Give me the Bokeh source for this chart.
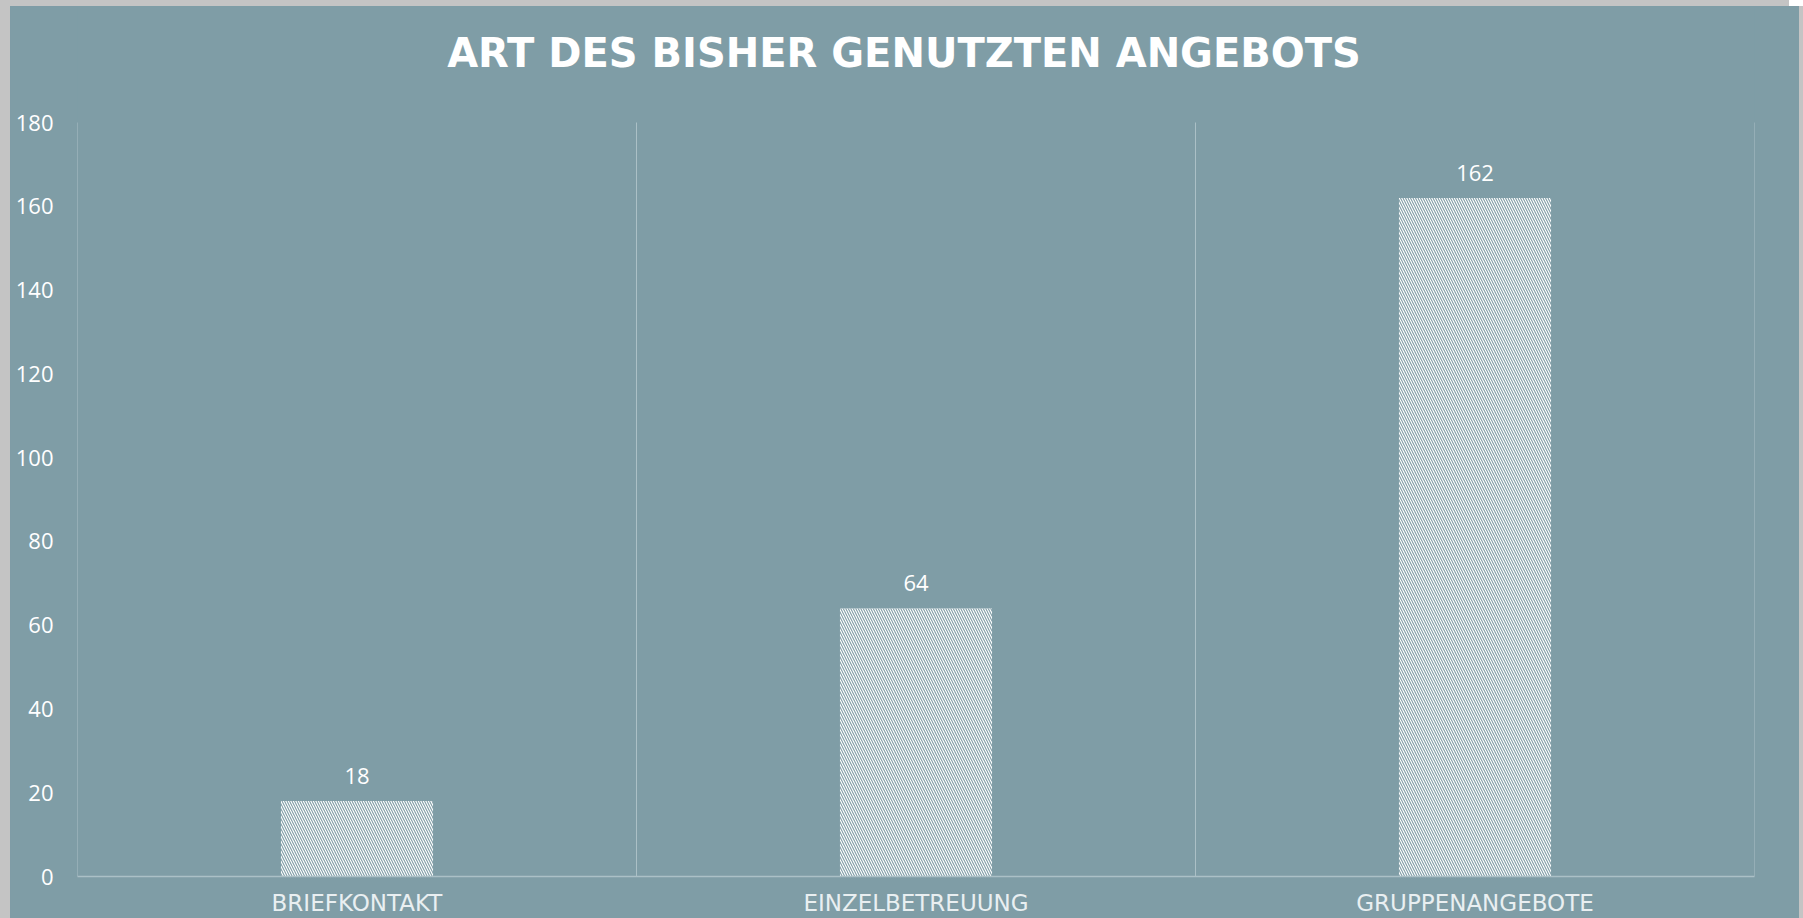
from bokeh.plotting import figure
from bokeh.models import ColumnDataSource, Range1d, FixedTicker, Label
from bokeh.embed import file_html
from bokeh.resources import INLINE

categories = ["BRIEFKONTAKT", "EINZELBETREUUNG", "GRUPPENANGEBOTE"]
values = [18, 64, 162]
y_ticks = [0, 20, 40, 60, 80, 100, 120, 140, 160, 180]
title_text = "ART DES BISHER GENUTZTEN ANGEBOTS"

BG = "#7f9da6"
GRID = "#abc0c6"

# layout (pixels): the frame reaches up to the top so the title can live inside it
FRAME_H = 870          # frame height in px
PLOT_H = 754           # px occupied by the 0..180 value span
y_top = y_ticks[-1] * FRAME_H / PLOT_H

centers = [i + 0.5 for i in range(len(categories))]
bounds = list(range(len(categories) + 1))
src = ColumnDataSource(dict(x=centers, top=values, label=[str(v) for v in values]))

p = figure(width=1789, height=FRAME_H + 55, output_backend="svg", toolbar_location=None,
           x_range=Range1d(0, len(categories)), y_range=Range1d(0, y_top),
           min_border_left=67, min_border_right=45, min_border_top=0, min_border_bottom=55)
p.styles = {"margin-left": "10px", "margin-top": "6px", "background-color": BG,
            "box-shadow": "-10px -6px 0 0 #c4c4c4, 4px 0 0 0 #c4c4c4"}
p.background_fill_color = BG
p.border_fill_color = BG
p.outline_line_color = None

# vertical separators between categories (from 0 to the top of the value axis)
p.segment(x0=bounds, y0=[0] * len(bounds), x1=bounds, y1=[y_ticks[-1]] * len(bounds),
          line_color=GRID, line_width=1)

p.vbar(x="x", top="top", width=0.272, source=src, fill_color="white", line_color=None,
       hatch_pattern="\\", hatch_color=BG, hatch_scale=5, hatch_weight=1.1)

p.text(x="x", y="top", text="label", source=src, text_align="center", text_baseline="alphabetic",
       y_offset=-25, text_color="white", text_font_size="22px", text_font={"value": "Open Sans"})

title = Label(x=len(categories) / 2, y=y_ticks[-1], x_offset=-12, y_offset=70,
              text=title_text, text_align="center", text_baseline="alphabetic",
              text_color="white", text_font="DejaVu Sans", text_font_style="bold",
              text_font_size="40px")
p.add_layout(title)

# y axis
p.yaxis.ticker = FixedTicker(ticks=y_ticks)
p.yaxis.axis_line_color = None
p.yaxis.major_tick_line_color = None
p.yaxis.minor_tick_line_color = None
p.yaxis.major_tick_out = 0
p.yaxis.major_label_standoff = 24
p.yaxis.major_label_text_color = "white"
p.yaxis.major_label_text_font = "Open Sans"
p.yaxis.major_label_text_font_size = "22px"

# x axis
p.xaxis.ticker = FixedTicker(ticks=centers)
p.xaxis.major_label_overrides = {c: lab for c, lab in zip(centers, categories)}
p.xaxis.axis_line_color = GRID
p.xaxis.axis_line_width = 1.5
p.xaxis.major_tick_line_color = None
p.xaxis.minor_tick_line_color = None
p.xaxis.major_tick_out = 0
p.xaxis.major_label_standoff = 13
p.xaxis.major_label_text_color = "#e9eff1"
p.xaxis.major_label_text_font = "DejaVu Sans"
p.xaxis.major_label_text_font_size = "23px"

p.xgrid.grid_line_color = None
p.ygrid.grid_line_color = None

open("out.html", "w").write(file_html(p, INLINE))
